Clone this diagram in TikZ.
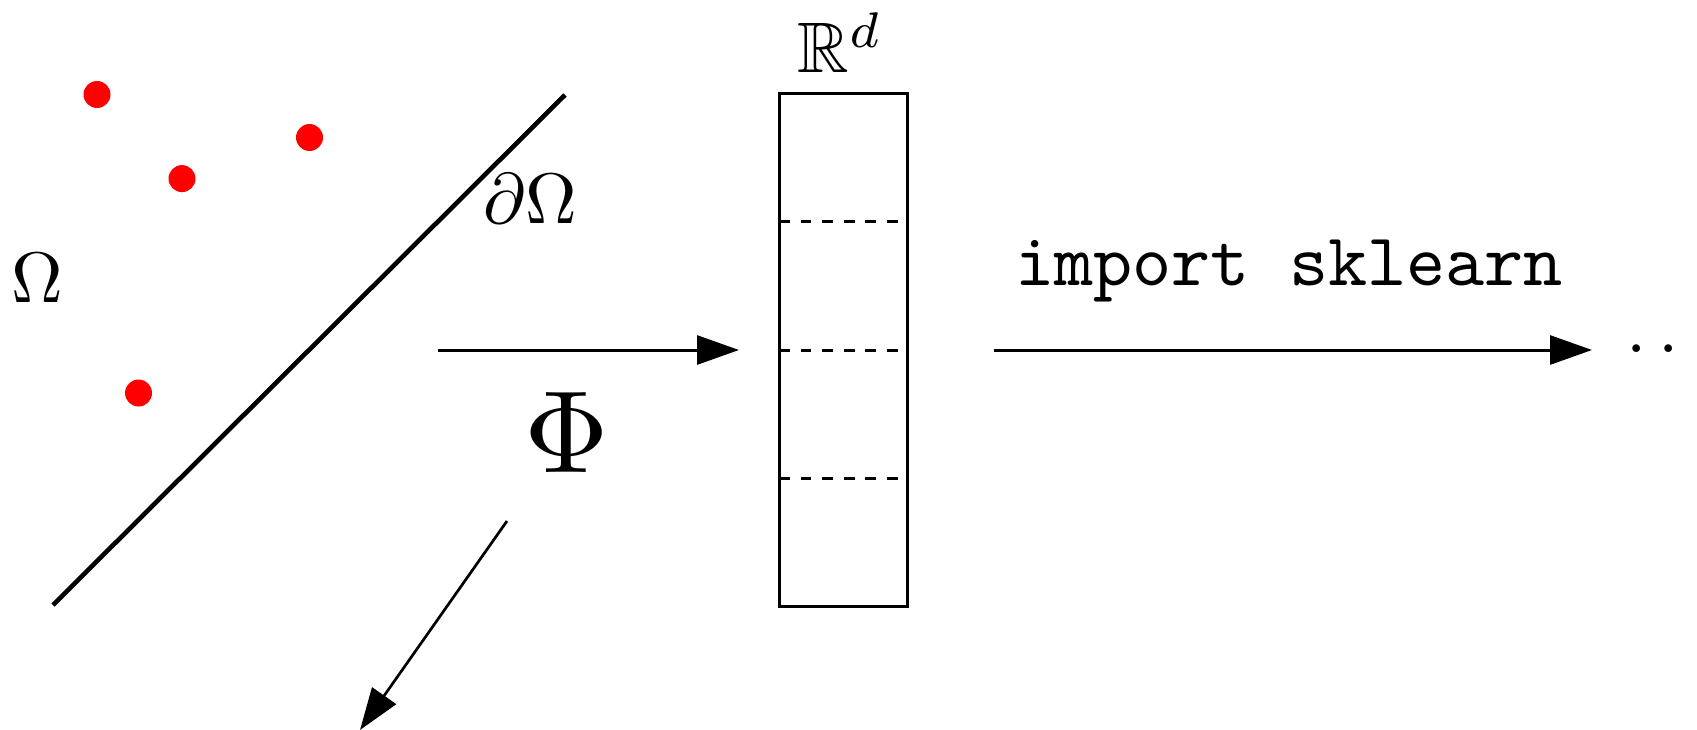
\documentclass[tikz,border=0pt]{standalone}
\usepackage{amssymb}
\usetikzlibrary{arrows.meta}
\begin{document}
\begin{tikzpicture}[x=1pt,y=-1pt,
  pt/.style={circle,fill=red,inner sep=0pt,minimum size=27pt},
  lbl/.style={inner sep=0pt,scale=7.15},
  biglbl/.style={inner sep=0pt,scale=11.7},
  arr/.style={line width=3pt,-{Triangle[length=42pt,width=29pt]}},
  dsh/.style={line width=3pt,dash pattern=on 10.8pt off 10.8pt},
]
\useasboundingbox (0,0) rectangle (1697,730);
% red points
\node[pt] (p1) at (97,94.5) {};
\node[pt] (p2) at (309.5,137.5) {};
\node[pt] (p3) at (182,178.6) {};
\node[pt] (p4) at (138.5,393) {};
% domain label
\node[lbl,anchor=base] (omega) at (37,302) {$\Omega$};
% boundary
\coordinate (b1) at (53,605);
\coordinate (b2) at (565,95);
\draw[line width=4.6pt] (b1) -- (b2);
\node[lbl,anchor=base] (dO) at (530,223) {$\partial\Omega$};
% feature vector
\node[draw,line width=3pt,minimum width=128pt,minimum height=512pt,inner sep=0pt,outer sep=0pt,anchor=north west] (vec) at (779,94) {};
\draw[dsh] (779,222) -- (907,222);
\draw[dsh] (779,350) -- (907,350);
\draw[dsh] (779,478) -- (907,478);
\node[lbl,anchor=base] (Rd) at (840,73) {$\mathbb{R}^d$};
% Phi arrow
\coordinate (a1s) at (438,350);
\coordinate (a1e) at (739,350);
\draw[arr] (a1s) -- (a1e);
\node[biglbl,anchor=base] (phi) at (567,472) {$\Phi$};
% down-left arrow
\coordinate (a3s) at (507,521);
\coordinate (a3e) at (360,730);
\draw[arr,line width=2.7pt] (a3s) -- (a3e);
% sklearn arrow
\coordinate (a2s) at (993.5,350);
\coordinate (a2e) at (1592,350);
\draw[arr] (a2s) -- (a2e);
\node[inner sep=0pt,scale=7.45,anchor=base,font=\ttfamily] (sk) at (1289,285) {import sklearn};
\node[inner sep=0pt,scale=7.3,anchor=base west] (dots) at (1625,352) {$\ldots$};
\end{tikzpicture}
\end{document}
